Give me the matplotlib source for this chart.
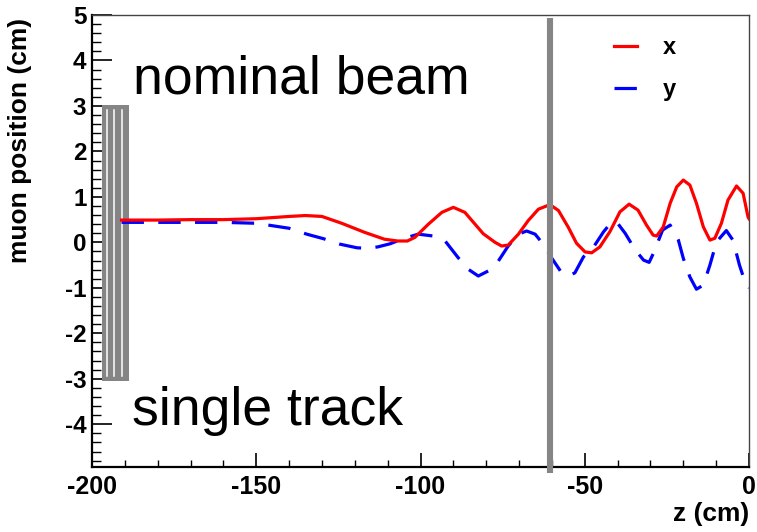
import matplotlib
matplotlib.use('Agg')
import matplotlib.pyplot as plt
from matplotlib.patches import Rectangle

# ---------------------------------------------------------------------------------
# Data (z in cm, muon position in cm)
# ---------------------------------------------------------------------------------

x_z = [-191, -180, -170, -160, -150, -140, -135, -130, -124, -117, -111, -107, -104,
       -101.7, -97.6, -93.5, -90, -86.5, -83.4, -80.9, -77.3, -75.3, -73.3, -70.2,
       -67.2, -64.1, -60.6, -58, -55, -52.5, -49.9, -47.9, -45.4, -42.3, -39.3, -36.5,
       -33.8, -31.2, -29.2, -28.1, -26.1, -24, -22, -20, -18, -16, -13.9, -11.9, -10.4,
       -8.4, -6.4, -3.8, -1.8, -0.3, 0]
x_pos = [0.49, 0.49, 0.50, 0.50, 0.52, 0.57, 0.59, 0.57, 0.42, 0.22, 0.07, 0.03, 0.03,
         0.11, 0.40, 0.66, 0.77, 0.66, 0.40, 0.19, 0.0, -0.08, -0.06, 0.18,
         0.48, 0.73, 0.83, 0.70, 0.33, -0.02, -0.21, -0.23, -0.10, 0.24, 0.67, 0.84,
         0.71, 0.38, 0.16, 0.14, 0.34, 0.86, 1.22, 1.37, 1.26, 0.86, 0.34, 0.05, 0.09,
         0.42, 0.93, 1.24, 1.08, 0.56, 0.52]

y_z = [-191, -170, -160, -150, -140, -134.6, -129.5, -124.5, -119.3, -116, -113, -109.2,
       -106, -103.5, -100.7, -96.1, -92.5, -88.5, -85.5, -82.4, -79.4, -76.3, -73.3,
       -70.2, -67.7, -65.1, -63.1, -60.1, -57.4, -55, -53, -50.4, -47.3, -44.3, -41.8,
       -40.2, -37.7, -34.6, -32.1, -30.4, -29.1, -26.3, -24, -21.5, -20, -18, -16, -13.9,
       -11.9, -9.9, -6.9, -4.9, -2.9, -0.9, 0]
y_pos = [0.44, 0.44, 0.44, 0.42, 0.31, 0.18, 0.08, -0.04, -0.12, -0.13, -0.10, -0.03,
         0.06, 0.12, 0.18, 0.14, 0.03, -0.34, -0.59, -0.74, -0.63, -0.41, -0.08,
         0.18, 0.25, 0.18, 0.0, -0.34, -0.63, -0.74, -0.67, -0.32, -0.10, 0.23, 0.45,
         0.44, 0.20, -0.17, -0.39, -0.44, -0.24, 0.27, 0.38, 0.05, -0.35, -0.76, -1.03, -0.94,
         -0.50, 0.01, 0.26, 0.05, -0.50, -0.94, -1.0]

series_labels = ['x', 'y']
x_ticks = [-200, -150, -100, -50, 0]
y_ticks = [-4, -3, -2, -1, 0, 1, 2, 3, 4, 5]

# detector geometry
station_z = (-197.0, -188.6)
station_y = (-3.05, 3.02)
station_gaps = [-195.5, -193.2, -191.0]
plane_z = -60.7

plt.rcParams['font.family'] = ['Liberation Sans', 'DejaVu Sans']
plt.rcParams['axes.unicode_minus'] = False

fig = plt.figure(figsize=(7.57, 5.32), dpi=100)
ax = fig.add_axes([92 / 757, 65 / 532, 657 / 757, 452 / 532])

# tracker station on the left: grey block with thin white slits
ax.add_patch(Rectangle((station_z[0], station_y[0]), station_z[1] - station_z[0],
                       station_y[1] - station_y[0], color='#858585', lw=0, zorder=2))
for g in station_gaps:
    ax.plot([g, g], [station_y[0] + 0.12, station_y[1] - 0.12], color='white', lw=1.1, zorder=2.5)

ax.plot(y_z, y_pos, color='#0000ff', lw=2.3, dashes=(7, 4.5), label=series_labels[1], zorder=3,
        dash_joinstyle='round')
ax.plot(x_z, x_pos, color='#ff0000', lw=2.3, label=series_labels[0], zorder=3.5,
        solid_joinstyle='round')

ax.plot([plane_z, plane_z], [-5.07, 4.93], color='#858585', lw=4.4, zorder=4, clip_on=False,
        solid_capstyle='butt')

ax.text(-187.6, 3.28, 'nominal beam', fontsize=38.5, ha='left', va='baseline')
ax.text(-187.9, -4.02, 'single track', fontsize=38.5, ha='left', va='baseline')

ax.set_xlim(-200, 0)
ax.set_ylim(-4.94, 5.0)
ax.set_xticks(x_ticks)
ax.set_yticks(y_ticks)
ax.set_xticks(range(-200, 1, 10), minor=True)
ax.set_yticks([v / 5 for v in range(-24, 26)], minor=True)
ax.tick_params(axis='x', which='major', direction='in', length=9.8, width=1.2, labelsize=18, pad=6)
ax.tick_params(axis='x', which='minor', direction='in', length=5, width=1.0)
ax.tick_params(axis='y', which='major', direction='in', length=14.2, width=1.2, labelsize=17.5, pad=4)
ax.tick_params(axis='y', which='minor', direction='in', length=6.8, width=1.0)
for lbl in ax.get_xticklabels() + ax.get_yticklabels():
    lbl.set_fontweight('bold')

for side in ['left', 'bottom']:
    ax.spines[side].set_linewidth(1.6)
for side in ['top', 'right']:
    ax.spines[side].set_linewidth(1.0)
    ax.spines[side].set_color('#444444')

handles, labels = ax.get_legend_handles_labels()
ax.legend(handles[::-1], labels[::-1], loc='upper left', bbox_to_anchor=(0.7626, 1.0),
          frameon=False, prop={'weight': 'bold', 'size': 17}, handlelength=0.97,
          handletextpad=1.1, labelspacing=0.8)

fig.text(20 / 757, 1 - 140 / 532, 'muon position (cm)', rotation=90, ha='center', va='center',
         fontsize=19, fontweight='bold')
fig.text(749 / 757, 1 - 514 / 532, 'z (cm)', ha='right', va='center', fontsize=19, fontweight='bold')

fig.savefig('out.png', dpi=100)
